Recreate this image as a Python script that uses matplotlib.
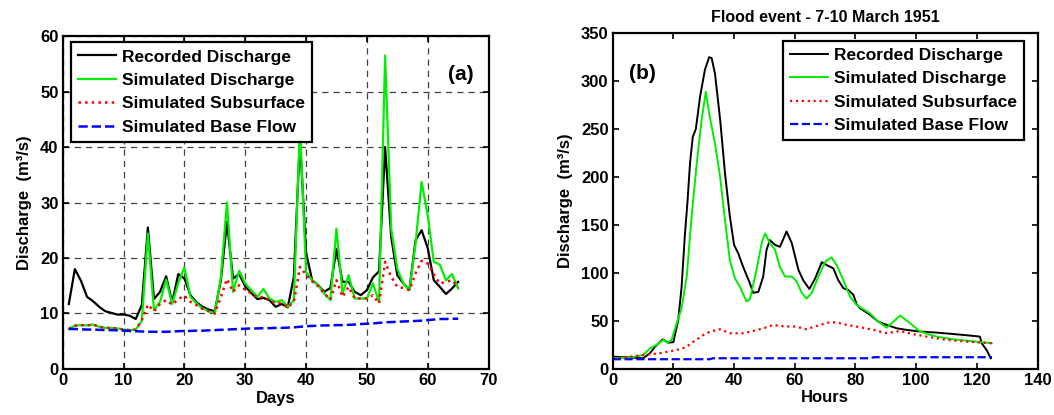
#Recorded vs simulated discharge, daily series (a) and flood event (b)

import numpy as np
import matplotlib as mpl
import matplotlib.pyplot as plt
mpl.rcParams['font.family'] = 'Liberation Sans'
mpl.rcParams['font.weight'] = 'bold'
mpl.rcParams['axes.labelweight'] = 'bold'
mpl.rcParams['axes.titleweight'] = 'bold'

#panel (a): daily values
days = np.arange(1, 66)
rec_day = [11.7, 18.0, 15.9, 13.0, 12.2, 11.2, 10.4, 10.1, 9.8, 9.8,
           9.6, 9.0, 11.5, 25.5, 12.6, 13.9, 16.7, 12.0, 17.1, 16.3,
           13.3, 12.0, 11.2, 10.7, 10.4, 16.0, 26.5, 16.3, 17.1, 14.9,
           13.7, 12.6, 12.8, 12.4, 11.2, 11.7, 11.1, 16.6, 41.5, 21.0,
           16.0, 15.1, 13.9, 14.6, 21.6, 15.7, 15.7, 13.9, 13.3, 14.2,
           16.5, 17.6, 40.0, 23.8, 16.9, 15.4, 14.3, 23.2, 25.0, 21.8,
           16.0, 14.8, 13.5, 14.5, 15.7]
sim_day = [7.2, 7.8, 7.9, 7.85, 8.0, 7.6, 7.4, 7.4, 7.3, 7.1,
           7.0, 7.1, 8.6, 24.4, 10.6, 12.1, 16.1, 11.7, 15.5, 18.3,
           13.0, 11.8, 10.9, 10.4, 10.0, 16.5, 30.0, 13.9, 17.7, 15.4,
           14.2, 13.0, 14.4, 12.7, 12.1, 12.4, 11.2, 12.4, 44.0, 17.5,
           16.0, 15.1, 13.6, 12.4, 25.3, 13.6, 16.9, 12.7, 12.7, 12.7,
           15.4, 12.1, 56.5, 25.3, 18.1, 15.4, 14.2, 22.6, 33.7, 27.7,
           19.3, 18.8, 16.0, 17.1, 14.5]
sub_day = [7.2, 7.8, 7.9, 7.85, 8.0, 7.6, 7.4, 7.4, 7.3, 7.1,
           7.0, 7.1, 8.8, 11.6, 10.4, 11.7, 12.4, 11.6, 12.6, 13.2,
           12.1, 11.5, 10.8, 10.4, 10.0, 13.0, 16.2, 13.9, 15.1, 14.3,
           13.6, 12.9, 13.0, 12.4, 11.8, 11.9, 11.1, 12.1, 18.4, 17.0,
           15.8, 14.9, 13.6, 12.5, 16.0, 13.0, 14.8, 12.7, 12.7, 12.7,
           13.3, 11.8, 19.3, 16.6, 14.8, 14.6, 14.2, 17.2, 19.5, 19.0,
           17.0, 15.4, 15.7, 16.0, 14.7]
base_day = [7.2, 7.2, 7.15, 7.1, 7.1, 7.05, 7.0, 7.0, 6.95, 6.9,
            6.85, 6.8, 6.75, 6.7, 6.7, 6.7, 6.7, 6.75, 6.8, 6.85,
            6.85, 6.9, 6.9, 6.95, 7.0, 7.05, 7.1, 7.15, 7.2, 7.25,
            7.3, 7.3, 7.35, 7.35, 7.4, 7.4, 7.45, 7.5, 7.6, 7.7,
            7.75, 7.8, 7.85, 7.85, 7.9, 7.9, 7.95, 8.0, 8.1, 8.15,
            8.2, 8.3, 8.4, 8.45, 8.5, 8.55, 8.6, 8.65, 8.7, 8.8,
            8.9, 9.0, 9.0, 9.05, 9.05]

#panel (b): flood event, hourly readings
rec_h = [0, 2, 5, 8, 10, 12.3, 14, 16.5, 18.3, 20, 21.6, 22.7, 23.8, 24.6,
         25.5, 26.4, 27.4, 28.8, 30.4, 31.8, 32.6, 33.7, 35.4, 37, 38.6, 40,
         41.4, 43, 45.2, 46.3, 48, 49.6, 50.7, 51.8, 53.5, 55.1, 57.3, 59,
         61.2, 62.8, 64.8, 66.7, 68.9, 70.5, 72.7, 74.3, 76, 77.6, 79.3,
         80.4, 81.5, 84.8, 87.5, 90.3, 93.6, 96.9, 101.3, 106.7, 112.2,
         117.7, 121, 121.6, 123.2, 124.6]
rec_q = [12.5, 12, 11.8, 11, 10.7, 16, 23, 30.5, 27, 27.5, 50.7, 85, 140, 172,
         215, 242, 250, 284, 312, 325, 324, 308, 260, 204, 159, 129,
         120, 106, 89, 79, 80, 96, 124, 134, 129, 127, 143, 131,
         103, 92, 83, 94, 111, 108, 104.6, 92.4, 83.8, 82, 77,
         67, 63, 56, 49, 45.5, 42, 40.3, 38.6, 37.5, 36,
         34.4, 33.3, 26.3, 19.4, 10.7]
sim_h = [0, 5.7, 10.1, 12.3, 14.5, 16.7, 18, 19.4, 21.1, 22.7, 24.4, 26, 27.7,
         29.3, 30.7, 31.8, 33.7, 35.4, 37, 38.6, 40.3, 41.9, 44.1, 45.2, 47.4,
         49.1, 50.2, 51.8, 53.5, 55.1, 56.8, 59, 60.6, 62.3, 63.9, 65.6, 67.8,
         70, 72.1, 73.8, 76, 78.2, 80.4, 84.8, 87.5, 90.3, 94.7, 98, 101.3,
         106.7, 112.2, 117.7, 124.9]
sim_q = [10.7, 11.4, 14.2, 21.2, 24.7, 29.9, 27, 29.9, 47.3, 62.9, 96, 158.6, 214,
         259.5, 289, 266, 235, 200, 155, 113, 94, 85.5, 70, 72.3, 103,
         131, 141, 131, 124, 106, 96, 96, 91, 79, 73, 79, 96,
         111.5, 116, 108, 92.4, 75, 66.3, 57.6, 49, 42.7, 55.3, 47.3, 38.6,
         33.3, 30.5, 28.7, 26.4]
sub_h = [0, 5, 10.1, 15.6, 21.1, 24, 26.6, 29.9, 32.1, 35.4, 38.6, 43, 47.4,
         50.7, 52.9, 56.4, 60.3, 63.9, 68.3, 71, 73.8, 77.1, 81.5, 86, 90.3,
         94.7, 99.1, 103.5, 110.1, 116.6, 124.9]
sub_q = [10.7, 12, 14.2, 16, 19.4, 22, 28, 35, 38.6, 41, 36.8, 36.8, 40,
         43, 45.5, 44, 43.8, 41, 45.5, 47.9, 48.3, 45.5, 43.1, 40.3, 36.8,
         39.2, 35.8, 33.3, 29.9, 28.1, 26.4]
base_h = [0, 32, 33, 84.8, 86, 125]
base_q = [9.7, 9.7, 10.7, 10.7, 11.8, 11.8]

labels = ['Recorded Discharge', 'Simulated Discharge',
          'Simulated Subsurface', 'Simulated Base Flow']
green = '#00ee00'


def style_axes(ax):
    for s in ax.spines.values():
        s.set_linewidth(1.6)
    ax.tick_params(direction='in', length=4, width=1.2, top=True, right=True,
                   labelsize=12, pad=3)


def add_legend(ax, x, y):
    leg = ax.legend(loc='upper left', bbox_to_anchor=(x, y), borderaxespad=0,
                    fontsize=12.5, handlelength=2.2, handletextpad=0.35,
                    labelspacing=0.48, borderpad=0.4, fancybox=False,
                    framealpha=1, edgecolor='black')
    leg.get_frame().set_linewidth(1.6)


fig = plt.figure(figsize=(10.54, 4.15), dpi=100)

#(a)
ax1 = fig.add_axes([0.0595, 0.111, 0.404, 0.802])
ax1.plot(days, rec_day, 'k-', lw=1.6, label=labels[0])
ax1.plot(days, sim_day, '-', color=green, lw=1.6, label=labels[1])
ax1.plot(days, sub_day, 'r:', lw=1.8, label=labels[2])
ax1.plot(days, base_day, 'b--', lw=1.8, label=labels[3])
ax1.set_xlim(0, 70)
ax1.set_ylim(0, 60)
ax1.set_xticks(range(0, 71, 10))
ax1.set_yticks(range(0, 61, 10))
ax1.grid(True, color='0.25', linestyle=(0, (5, 4)), linewidth=0.9)
ax1.set_xlabel('Days', fontsize=12, labelpad=2)
ax1.set_ylabel('Discharge  (m³/s)', fontsize=12, labelpad=6)
ax1.text(0.935, 0.885, '(a)', transform=ax1.transAxes, fontsize=15,
         ha='center', va='center')
style_axes(ax1)
add_legend(ax1, 0.0195, 0.981)

#(b)
ax2 = fig.add_axes([0.5813, 0.112, 0.4031, 0.808])
ax2.plot(rec_h, rec_q, 'k-', lw=1.4, label=labels[0])
ax2.plot(sim_h, sim_q, '-', color=green, lw=1.4, label=labels[1])
ax2.plot(sub_h, sub_q, 'r:', lw=1.6, label=labels[2])
ax2.plot(base_h, base_q, 'b--', lw=1.6, label=labels[3])
ax2.set_xlim(0, 140)
ax2.set_ylim(0, 350)
ax2.set_xticks(range(0, 141, 20))
ax2.set_yticks(range(0, 351, 50))
ax2.set_xlabel('Hours', fontsize=12, labelpad=2)
ax2.set_ylabel('Discharge  (m³/s)', fontsize=12, labelpad=6)
ax2.set_title('Flood event - 7-10 March 1951', fontsize=11.5, pad=8)
ax2.text(0.071, 0.88, '(b)', transform=ax2.transAxes, fontsize=15,
         ha='center', va='center')
style_axes(ax2)
add_legend(ax2, 0.4, 0.977)

fig.savefig('out.png', dpi=100)
